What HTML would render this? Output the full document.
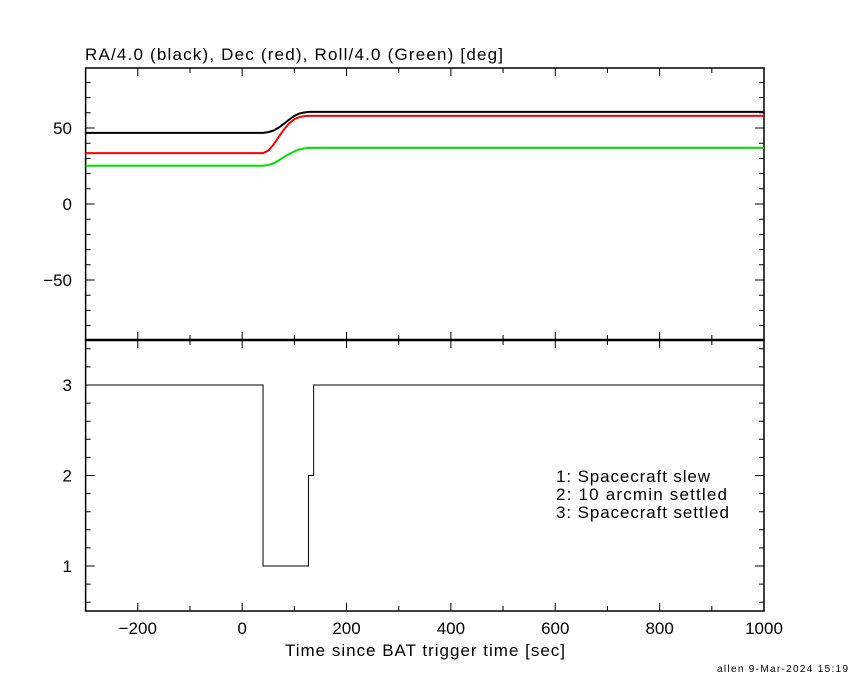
<!DOCTYPE html>
<html><head><meta charset="utf-8"><style>
body{margin:0;background:#fff}
svg text{font-family:"Liberation Sans",sans-serif;font-size:17px;fill:#000}
</style></head><body>
<svg id="c" width="850" height="680" xmlns="http://www.w3.org/2000/svg"></svg>
<script>
const times=[-300,40,50,60,70,80,90,100,110,120,128,1000];
const raVals=[46.8,46.8,47.3,48.3,50.2,52.8,55.5,58,59.6,60.3,60.6,60.6];
const decVals=[33.5,33.5,35,39,44,49,53,55.8,57.2,57.8,58,58];
const rollVals=[25.2,25.2,25.7,26.7,28.6,30.8,32.8,34.6,35.9,36.6,36.9,36.9];
const stepTimes=[-300,40,40,127,127,137,137,1000];
const stepVals=[3,3,1,1,2,2,3,3];
const xTicks=[-200,0,200,400,600,800,1000];
const yTopTicks=[-50,0,50];
const yBotTicks=[1,2,3];
const L=85.6,R=764,T1=68,B1=340,T2=340,B2=611;
const x=v=>L+(v+300)*(R-L)/1300;
const y1=v=>204-1.52*v;
const y2=v=>385+(3-v)*90.5;
const s=document.getElementById('c');const NS='http://www.w3.org/2000/svg';
function el(t,a,p){const e=document.createElementNS(NS,t);for(const k in a)e.setAttribute(k,a[k]);(p||s).appendChild(e);return e;}
function txt(str,xx,yy,anchor,len){const e=el('text',{x:xx,y:yy,'text-anchor':anchor||'start'});if(len){e.setAttribute('textLength',len);e.setAttribute('lengthAdjust','spacing');}e.textContent=str;return e;}
const f1=el('rect',{x:L,y:T1,width:R-L,height:B1-T1,fill:'none',stroke:'#000','stroke-width':1.5});

const f2=el('rect',{x:L,y:T2,width:R-L,height:B2-T2,fill:'none',stroke:'#000','stroke-width':1.5});

el('line',{x1:L,x2:R,y1:340,y2:340,stroke:'#000','stroke-width':2.5});
let tk='';
for(let v=-300;v<=1000;v+=100){const X=x(v),len=(v%200===0)?8:5;
 [[T1,1],[B1,-1],[T2,1],[B2,-1]].forEach(([yy,d])=>{tk+=`M${X},${yy}v${d*len}`;});}
for(let v=-80;v<=80;v+=10){const Y=y1(v),len=(v%50===0)?9:5;tk+=`M${L},${Y}h${len}M${R},${Y}h${-len}`;}
for(let v=0.6;v<=3.41;v+=0.2){const r=Math.round(v*10)/10;const Y=y2(r),len=(Math.abs(r-Math.round(r))<0.01)?9:5;tk+=`M${L},${Y}h${len}M${R},${Y}h${-len}`;}
const tp=el('path',{d:tk,stroke:'#000','stroke-width':1,fill:'none'});

xTicks.forEach(v=>{const t=txt(v<0?'\u2212'+(-v):String(v),x(v),634,'middle');});
yTopTicks.forEach(v=>{const t=txt(v<0?'\u2212'+(-v):String(v),72,y1(v)+6,'end');});
yBotTicks.forEach(v=>{const t=txt(String(v),72,y2(v)+6,'end');});
function line(ts,vs,fy,col,name,w){const d=ts.map((t,i)=>(i?'L':'M')+x(t)+','+fy(vs[i])).join('');
 const p=el('path',{d:d,stroke:col,'stroke-width':w,fill:'none'});}
line(times,rollVals,y1,'#00e000','roll-line',2);
line(times,decVals,y1,'#ff0000','dec-line',2);
line(times,raVals,y1,'#000','ra-line',2);
line(stepTimes,stepVals,y2,'#000','settle-status-line',1);
let t=txt('RA/4.0 (black), Dec (red), Roll/4.0 (Green) [deg]',85,60,'start',418);
t=txt('Time since BAT trigger time [sec]',285,656,'start',280);
[['1: Spacecraft slew',154],['2: 10 arcmin settled',171],['3: Spacecraft settled',173]].forEach((s2,i)=>{const e=txt(s2[0],556,482+i*18,'start',s2[1]);});
t=txt('allen  9-Mar-2024 15:19',848,672,'end',131);t.setAttribute('style','font-size:10px');
</script>
</body></html>
